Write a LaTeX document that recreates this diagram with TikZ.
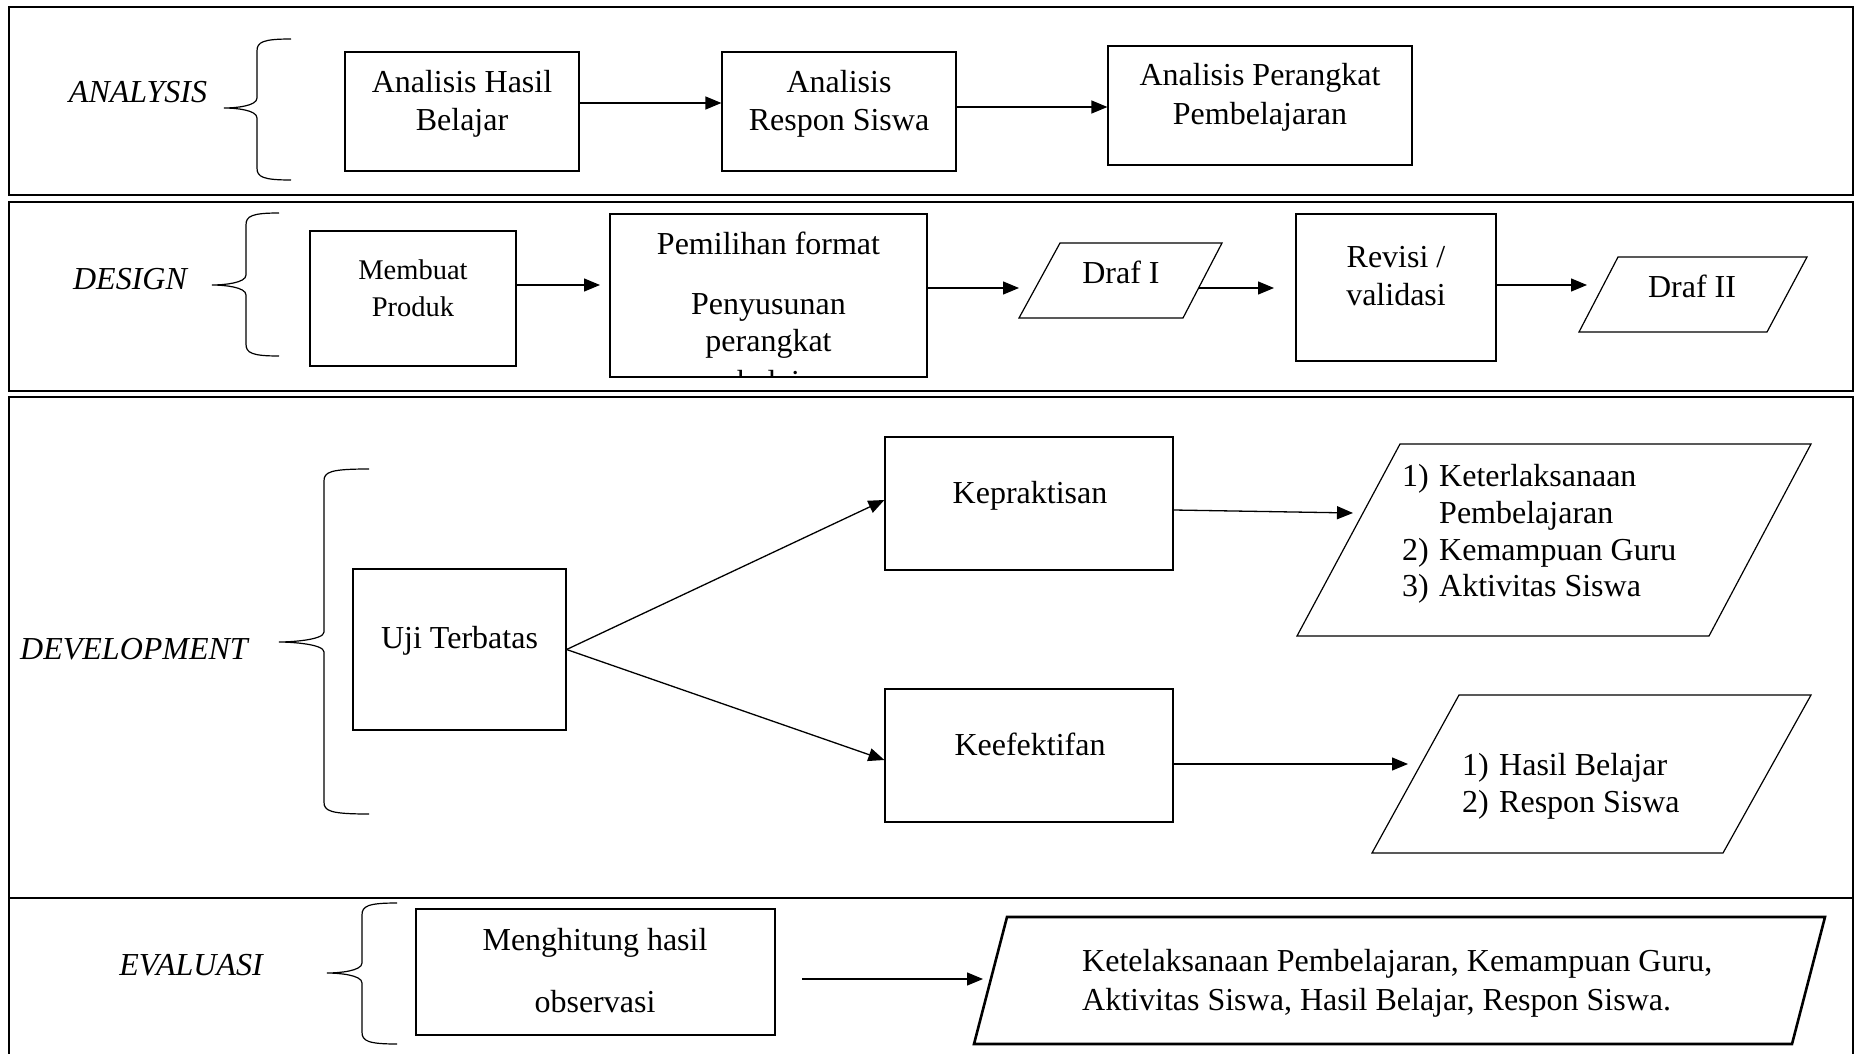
\documentclass[tikz,border=0pt]{standalone}
\usepackage{fontspec}
\setmainfont{Liberation Serif}
\usetikzlibrary{arrows.meta}
\tikzset{
 frame/.style={line width=2.8pt},
 box/.style={draw, line width=1.2pt, rectangle, inner sep=0pt},
 tbox/.style={draw, line width=2.6pt, rectangle, inner sep=0pt},
 txt/.style={inner sep=0pt, font=\fontsize{32}{38}\selectfont, anchor=base},
 stxt/.style={inner sep=0pt, font=\fontsize{28.5}{34}\selectfont, anchor=base},
 ltxt/.style={inner sep=0pt, font=\fontsize{32}{38}\selectfont, anchor=base west},
 lbl/.style={inner sep=0pt, font=\fontsize{32}{38}\selectfont\itshape, anchor=base},
 arr/.style={line width=1.3pt, -{Triangle[length=16pt,width=13pt]}},
 brace/.style={line width=1.2pt},
 para/.style={line width=1.2pt},
 tpara/.style={line width=2.6pt},
}
\newcommand\mybrace[6]{%
\draw[brace] (#1,#4) .. controls ({#2+6},#4) and (#2,{#4+3}) .. (#2,{#4+12}) -- (#2,{#5-10}) .. controls (#2,{#5-2}) and ({#3+12},#5) .. (#3,#5) .. controls ({#3+12},#5) and (#2,{#5+2}) .. (#2,{#5+10}) -- (#2,{#6-12}) .. controls (#2,{#6-3}) and ({#2+6},#6) .. (#1,#6);}
\begin{document}
\begin{tikzpicture}[x=1pt,y=-1pt]
\useasboundingbox (0,0) rectangle (1858,1054);
% frames
\draw[frame] (9,7) rectangle (1853,195);
\draw[frame] (9,202) rectangle (1853,391);
\draw[frame] (9,397) rectangle (1853,898);
\draw[line width=2pt] (9,1070) -- (9,898) -- (1853,898) -- (1853,1070);

% ---------------- ANALYSIS
\node[lbl] (lA) at (138,103) {ANALYSIS};
\mybrace{291}{257}{224}{39}{108}{180}
\node[box, minimum width=234pt, minimum height=119pt] (a1) at (462,111.5) {};
\node[txt] (a1a) at (462,92.7) {Analisis Hasil};
\node[txt] (a1b) at (462,131) {Belajar};
\node[box, minimum width=234pt, minimum height=119pt] (a2) at (839,111.5) {};
\node[txt] (a2a) at (839,93) {Analisis};
\node[txt] (a2b) at (839,131) {Respon Siswa};
\node[box, minimum width=304pt, minimum height=119pt] (a3) at (1260,105.5) {};
\node[txt] (a3a) at (1260,86) {Analisis Perangkat};
\node[txt] (a3b) at (1260,125) {Pembelajaran};
\draw[arr] ([yshift=8.5pt]a1.east) -- ([yshift=8.5pt]a2.west);
\draw[arr] ([yshift=4.5pt]a2.east) -- ([yshift=-1.5pt]a3.west);

% ---------------- DESIGN
\node[lbl] (lD) at (130,289) {DESIGN};
\mybrace{279}{246}{212}{213}{285}{356}
\node[tbox, minimum width=206pt, minimum height=135pt] (d1) at (413,298.5) {};
\node[stxt] (d1a) at (413,279) {Membuat};
\node[stxt] (d1b) at (413,316) {Produk};
\node[box, minimum width=317pt, minimum height=163pt] (d2) at (768.5,295.5) {};
\node[txt] (d2a) at (768.5,254) {Pemilihan format};
\node[txt] (d2b) at (768.5,314) {Penyusunan};
\node[txt] (d2c) at (768.5,351.5) {perangkat};
\begin{scope}
\clip (611,215) rectangle (926,376.4);
\node[txt] (d2d) at (768.5,392) {pembelajaran};
\end{scope}
\coordinate (d1end) at (600,285);
\draw[arr] ([yshift=13.5pt]d1.east) -- (d1end);
% Draf I
\coordinate (f1a) at (1060,243);
\coordinate (f1b) at (1222,243);
\coordinate (f1c) at (1183,318);
\coordinate (f1d) at (1019,318);
\draw[para] (f1a) -- (f1b) -- (f1c) -- (f1d) -- cycle;
\node[txt] (f1t) at (1121,283) {Draf I};
\coordinate (f1in) at (1019,288);
\coordinate (f1out) at (1198.6,288);
\draw[arr] ([yshift=7.5pt]d2.east) -- (f1in);
\node[box, minimum width=200pt, minimum height=147pt] (rv) at (1396,287.5) {};
\node[txt] (rva) at (1396,267) {Revisi /};
\node[txt] (rvb) at (1396,305) {validasi};
\coordinate (rvin) at (1274,288);
\draw[arr] (f1out) -- (rvin);
% Draf II
\coordinate (f2a) at (1618,257);
\coordinate (f2b) at (1807,257);
\coordinate (f2c) at (1767,332);
\coordinate (f2d) at (1579,332);
\draw[para] (f2a) -- (f2b) -- (f2c) -- (f2d) -- cycle;
\node[txt] (f2t) at (1692,297) {Draf II};
\coordinate (f2in) at (1587,285);
\draw[arr] ([yshift=2.5pt]rv.east) -- (f2in);

% ---------------- DEVELOPMENT
\node[lbl] (lV) at (134,659) {DEVELOPMENT};
\mybrace{369}{324}{279}{469}{642}{814}
\node[box, minimum width=213pt, minimum height=161pt] (u) at (459.5,649.5) {};
\node[txt] (ut) at (459.5,648) {Uji Terbatas};
\node[box, minimum width=288pt, minimum height=133pt] (k) at (1029,503.5) {};
\node[txt] (kt) at (1030,503) {Kepraktisan};
\node[box, minimum width=288pt, minimum height=133pt] (e) at (1029,755.5) {};
\node[txt] (et) at (1030,755) {Keefektifan};
\draw[arr] (u.east) -- ([yshift=3.5pt]k.west);
\draw[arr] (u.east) -- ([yshift=-4.5pt]e.west);
% output 1
\coordinate (p1a) at (1400,444);
\coordinate (p1b) at (1811,444);
\coordinate (p1c) at (1709,636);
\coordinate (p1d) at (1297,636);
\draw[para] (p1a) -- (p1b) -- (p1c) -- (p1d) -- cycle;
\coordinate (p1in) at (1353,513);
\draw[arr] ([yshift=-6.5pt]k.east) -- (p1in);
\node[ltxt] (p1n1) at (1402,486) {1)};
\node[ltxt] (p1t1) at (1439,486) {Keterlaksanaan};
\node[ltxt] (p1t1b) at (1439,523) {Pembelajaran};
\node[ltxt] (p1n2) at (1402,560) {2)};
\node[ltxt] (p1t2) at (1439,560) {Kemampuan Guru};
\node[ltxt] (p1n3) at (1402,596) {3)};
\node[ltxt] (p1t3) at (1439,596) {Aktivitas Siswa};
% output 2
\coordinate (p2a) at (1459,695);
\coordinate (p2b) at (1811,695);
\coordinate (p2c) at (1723,853);
\coordinate (p2d) at (1372,853);
\draw[para] (p2a) -- (p2b) -- (p2c) -- (p2d) -- cycle;
\coordinate (p2in) at (1408,764);
\draw[arr] ([yshift=-8.5pt]e.east) -- (p2in);
\node[ltxt] (p2n1) at (1462,775) {1)};
\node[ltxt] (p2t1) at (1499,775) {Hasil Belajar};
\node[ltxt] (p2n2) at (1462,812) {2)};
\node[ltxt] (p2t2) at (1499,812) {Respon Siswa};

% ---------------- EVALUASI
\node[lbl] (lE) at (191,975) {EVALUASI};
\mybrace{397}{362}{327}{903}{973}{1044}
\node[tbox, minimum width=359pt, minimum height=126pt] (m) at (595.5,972) {};
\node[txt] (ma) at (595,950) {Menghitung hasil};
\node[txt] (mb) at (595,1012) {observasi};
\coordinate (ms) at (802,979);
\coordinate (me) at (983,979);
\draw[arr] (ms) -- (me);
\coordinate (p3a) at (1007,917);
\coordinate (p3b) at (1825,917);
\coordinate (p3c) at (1792,1044);
\coordinate (p3d) at (974,1044);
\draw[tpara] (p3a) -- (p3b) -- (p3c) -- (p3d) -- cycle;
\node[ltxt] (p3t1) at (1082,971) {Ketelaksanaan Pembelajaran, Kemampuan Guru,};
\node[ltxt] (p3t2) at (1082,1010) {Aktivitas Siswa, Hasil Belajar, Respon Siswa.};
\end{tikzpicture}
\end{document}
